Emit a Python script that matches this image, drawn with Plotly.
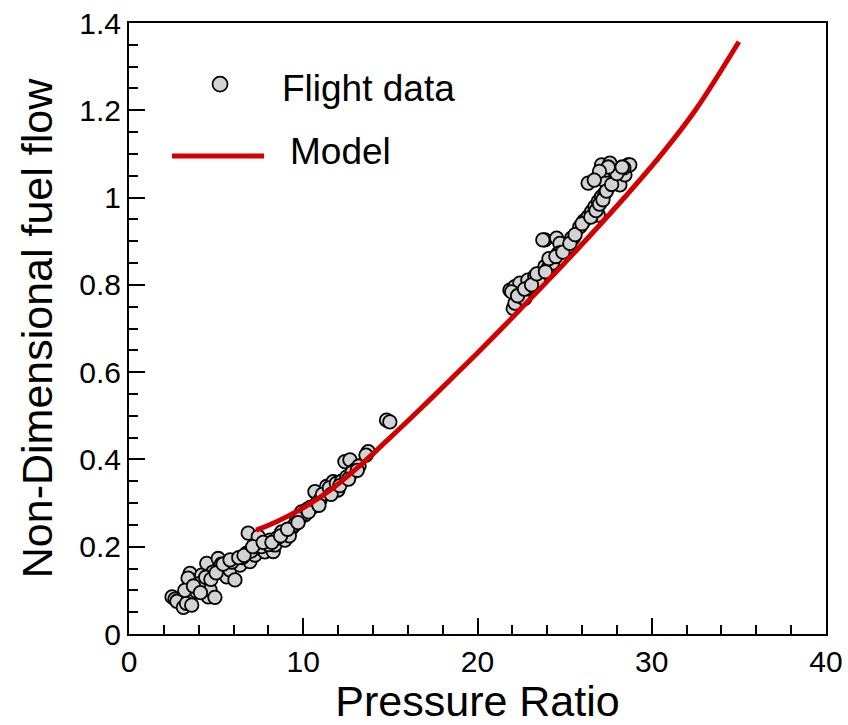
import plotly.graph_objects as go

# ---- data ----
flight_x = [2.47, 2.64, 2.75, 3.12, 3.30, 3.60, 3.50, 3.39, 3.88, 3.96, 4.17, 4.26, 4.46, 4.55,
            4.65, 4.82, 4.93, 5.12, 5.22, 5.51, 5.61, 5.79, 6.08, 6.18, 6.37, 6.75, 6.84, 6.94,
            7.23, 7.42, 7.52, 7.80, 8.09, 8.28, 8.38, 8.76, 8.95, 9.35, 9.62, 9.91, 10.10, 10.57,
            10.67, 10.96, 11.34, 11.72, 11.99, 12.39, 12.68, 12.97, 13.73, 14.78, 14.97,
            7.00, 7.60, 8.00, 8.50, 9.00, 9.20, 9.50, 9.80, 10.20, 10.40, 10.80, 11.10, 11.50,
            11.90, 12.20, 12.50, 12.80, 13.20, 13.60, 5.90, 6.50, 4.00, 4.40, 5.30,
            3.20, 3.70, 4.10, 4.70, 5.00, 5.40, 5.80, 6.30, 6.60, 7.10, 7.70, 8.20, 8.70, 9.10,
            9.70, 10.30, 10.90, 11.60, 12.10, 12.60, 13.10,
            22.05, 21.86, 22.15, 22.43, 22.72, 22.53, 22.15, 23.01, 22.89, 23.29, 23.48, 23.68,
            23.87, 24.06, 24.25, 24.34, 23.87, 24.54, 24.63, 24.92, 25.20, 25.49, 25.87, 26.10,
            26.35, 26.55, 26.74, 26.93, 27.12, 27.31, 27.50, 26.93, 26.35, 26.93, 27.12, 27.60,
            27.60, 27.98, 28.27, 28.65, 27.77, 28.17, 27.25, 27.37, 28.46, 24.73, 21.96, 22.60,
            22.90, 23.50, 24.30, 24.70, 25.40, 23.75, 28.74, 27.90, 28.40,
            22.30, 22.70, 23.10, 23.40, 23.90, 24.10, 24.50, 24.90, 25.30, 25.60, 26.00, 26.50,
            26.80, 27.00, 27.20, 27.40, 27.70, 28.00, 28.30, 27.50, 27.00, 26.70]
flight_y = [0.085, 0.080, 0.075, 0.061, 0.070, 0.066, 0.139, 0.128, 0.097, 0.105, 0.135, 0.120, 0.162, 0.085,
            0.101, 0.142, 0.084, 0.173, 0.147, 0.151, 0.131, 0.147, 0.124, 0.170, 0.158, 0.185, 0.231, 0.166,
            0.181, 0.223, 0.196, 0.188, 0.215, 0.189, 0.204, 0.234, 0.215, 0.243, 0.261, 0.280, 0.273, 0.292,
            0.326, 0.307, 0.338, 0.349, 0.330, 0.395, 0.399, 0.376, 0.418, 0.490, 0.486,
            0.190, 0.200, 0.205, 0.220, 0.230, 0.225, 0.250, 0.265, 0.285, 0.290, 0.300, 0.320, 0.335,
            0.345, 0.350, 0.360, 0.370, 0.385, 0.410, 0.165, 0.175, 0.115, 0.130, 0.160,
            0.100, 0.110, 0.095, 0.125, 0.140, 0.160, 0.170, 0.175, 0.180, 0.200, 0.210, 0.210, 0.225, 0.240,
            0.255, 0.280, 0.295, 0.320, 0.340, 0.355, 0.375,
            0.746, 0.788, 0.796, 0.804, 0.769, 0.781, 0.758, 0.792, 0.811, 0.820, 0.811, 0.827,
            0.842, 0.838, 0.853, 0.857, 0.903, 0.907, 0.872, 0.880, 0.887, 0.907, 0.933, 0.946,
            0.956, 0.968, 0.979, 0.991, 1.002, 1.010, 1.025, 0.960, 1.033, 1.048, 1.075, 1.079,
            1.056, 1.048, 1.063, 1.075, 1.040, 1.029, 1.040, 1.063, 1.052, 0.895, 0.784, 0.770,
            0.793, 0.810, 0.850, 0.873, 0.907, 0.903, 1.075, 1.060, 1.068,
            0.775, 0.790, 0.800, 0.825, 0.830, 0.860, 0.865, 0.875, 0.895, 0.915, 0.940, 0.955,
            0.970, 0.985, 0.995, 1.015, 1.030, 1.055, 1.070, 1.070, 1.060, 1.040]

model_x = [7.3, 8.5, 10.0, 11.5, 13.0, 14.8, 16.7, 18.5, 20.0, 22.0, 24.0, 26.0, 28.5, 30.5, 32.5, 35.0]
model_y = [0.238, 0.258, 0.289, 0.328, 0.377, 0.443, 0.515, 0.585, 0.644, 0.725, 0.808, 0.893, 1.003,
           1.096, 1.200, 1.357]

x_ticks = [0, 10, 20, 30, 40]
y_ticks = [0, 0.2, 0.4, 0.6, 0.8, 1.0, 1.2, 1.4]

FONT = "Liberation Sans, Arial, sans-serif"
RED = "#d40000"

fig = go.Figure()
fig.add_trace(go.Scatter(
    x=flight_x, y=flight_y, mode="markers", name="Flight data", showlegend=False,
    marker=dict(size=13.5, color="#d3d3d3", line=dict(color="black", width=1.8)),
))
fig.add_trace(go.Scatter(
    x=model_x, y=model_y, mode="lines", name="Model", showlegend=False,
    line=dict(color=RED, width=5, shape="spline", smoothing=1.0),
))

# manual legend (paper coordinates)
fig.add_shape(type="circle", xref="paper", yref="paper", xsizemode="pixel", ysizemode="pixel",
              xanchor=0.1306, yanchor=0.900, x0=-7.5, x1=7.5, y0=-7.5, y1=7.5,
              fillcolor="#d3d3d3", line=dict(color="black", width=1.8))
fig.add_shape(type="line", xref="paper", yref="paper", x0=0.0617, x1=0.1937, y0=0.7823, y1=0.7823,
              line=dict(color=RED, width=5))
fig.add_annotation(text="Flight data", xref="paper", yref="paper", x=0.216, y=0.8936,
                   xanchor="left", yanchor="middle", showarrow=False,
                   font=dict(family=FONT, size=37, color="black"))
fig.add_annotation(text="Model", xref="paper", yref="paper", x=0.2275, y=0.789,
                   xanchor="left", yanchor="middle", showarrow=False,
                   font=dict(family=FONT, size=37, color="black"))

axis_common = dict(
    showgrid=False, zeroline=False, showline=True, linecolor="black", linewidth=2,
    mirror=True, ticks="inside", ticklen=16, tickwidth=1.5, tickcolor="black",
    tickfont=dict(family=FONT, size=30, color="black"),
)
fig.update_xaxes(
    range=[0, 40], tickvals=x_ticks, ticktext=[str(v) for v in x_ticks],
    minor=dict(dtick=2, ticks="inside", ticklen=9, tickwidth=1.5, tickcolor="black"),
    title=dict(text="Pressure Ratio", font=dict(family=FONT, size=43, color="black"), standoff=11),
    **axis_common,
)
fig.update_yaxes(
    range=[0, 1.4], tickvals=y_ticks, ticktext=["0", "0.2", "0.4", "0.6", "0.8", "1", "1.2", "1.4"],
    minor=dict(dtick=0.05, ticks="inside", ticklen=9, tickwidth=1.5, tickcolor="black"),
    title=dict(text="Non-Dimensional fuel flow", font=dict(family=FONT, size=43, color="black"), standoff=13),
    **axis_common,
)
fig.update_layout(
    width=848, height=725,
    margin=dict(l=129, r=22, t=23, b=91, autoexpand=False),
    plot_bgcolor="white", paper_bgcolor="white",
    font=dict(family=FONT, color="black"),
)
fig.write_html("out.html")
